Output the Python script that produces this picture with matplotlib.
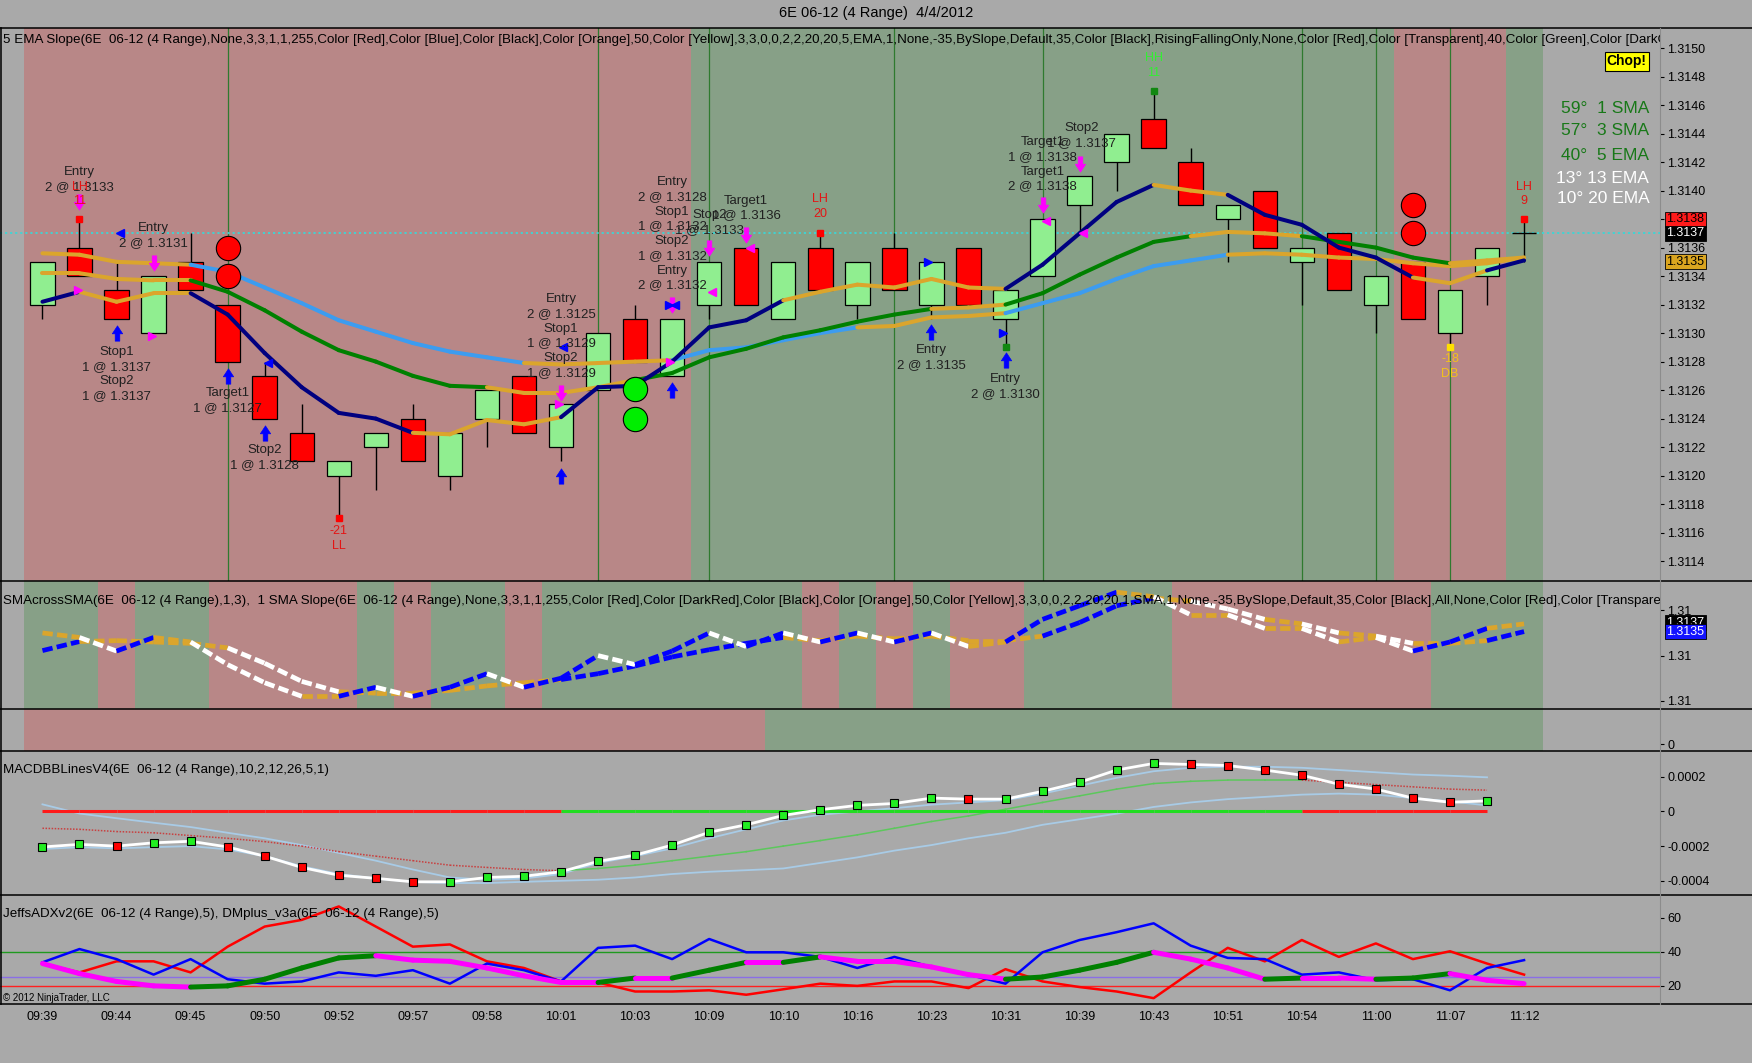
import numpy as np
import matplotlib
matplotlib.use("Agg")
import matplotlib.pyplot as plt
from matplotlib.path import Path
from matplotlib.patches import Rectangle
from matplotlib.lines import Line2D

plt.rcParams['font.family'] = ['Liberation Sans', 'DejaVu Sans']

# layout grid of the screenshot (all positions below are in this grid)
W, H = 1568.0, 951.0
GRAY = '#a9a9a9'
RED_BG = '#b88787'
GREEN_BG = '#87a087'

# ---------------- data ----------------
times = ["09:39", "09:44", "09:45", "09:50", "09:52", "09:57", "09:58", "10:01",
         "10:03", "10:09", "10:10", "10:16", "10:23", "10:31", "10:39", "10:43",
         "10:51", "10:54", "11:00", "11:07", "11:12"]

opens = [1.3132, 1.3136, 1.3133, 1.3130, 1.3135, 1.3132, 1.3127, 1.3123, 1.3120, 1.3122,
         1.3124, 1.3120, 1.3124, 1.3127, 1.3122, 1.3126, 1.3131, 1.3127, 1.3132, 1.3136,
         1.3131, 1.3136, 1.3132, 1.3136, 1.3132, 1.3136, 1.3131, 1.3134, 1.3139, 1.3142,
         1.3145, 1.3142, 1.3138, 1.3140, 1.3135, 1.3137, 1.3132, 1.3135, 1.3130, 1.3134,
         1.3137]
highs = [1.3135, 1.3138, 1.3135, 1.3134, 1.3137, 1.3132, 1.3128, 1.3125, 1.3121, 1.3123,
         1.3125, 1.3123, 1.3126, 1.3127, 1.3125, 1.3130, 1.3132, 1.3131, 1.3135, 1.3136,
         1.3135, 1.3137, 1.3135, 1.3137, 1.3135, 1.3136, 1.3133, 1.3138, 1.3141, 1.3144,
         1.3147, 1.3143, 1.3139, 1.3140, 1.3136, 1.3137, 1.3134, 1.3135, 1.3133, 1.3136,
         1.3138]
lows = [1.3131, 1.3134, 1.3131, 1.3130, 1.3133, 1.3128, 1.3124, 1.3121, 1.3117, 1.3119,
        1.3121, 1.3119, 1.3122, 1.3123, 1.3121, 1.3126, 1.3128, 1.3127, 1.3131, 1.3132,
        1.3131, 1.3133, 1.3131, 1.3133, 1.3131, 1.3132, 1.3129, 1.3134, 1.3137, 1.3140,
        1.3143, 1.3139, 1.3135, 1.3136, 1.3132, 1.3133, 1.3130, 1.3131, 1.3129, 1.3132,
        1.3135]
closes = [1.3135, 1.3134, 1.3131, 1.3134, 1.3133, 1.3128, 1.3124, 1.3121, 1.3121, 1.3123,
          1.3121, 1.3123, 1.3126, 1.3123, 1.3125, 1.3130, 1.3128, 1.3131, 1.3135, 1.3132,
          1.3135, 1.3133, 1.3135, 1.3133, 1.3135, 1.3132, 1.3133, 1.3138, 1.3141, 1.3144,
          1.3143, 1.3139, 1.3139, 1.3136, 1.3136, 1.3133, 1.3134, 1.3131, 1.3133, 1.3136,
          1.3137]

ema5 = [1.31322, 1.31329, 1.31322, 1.31328, 1.31328, 1.31313, 1.31286, 1.31262, 1.31244, 1.31240,
        1.31230, 1.31229, 1.31239, 1.31236, 1.31241, 1.31262, 1.31263, 1.31280, 1.31304, 1.31309,
        1.31323, 1.31329, 1.31334, 1.31332, 1.31338, 1.31332, 1.31331, 1.31348, 1.31370, 1.31392,
        1.31404, 1.31400, 1.31397, 1.31383, 1.31376, 1.31360, 1.31353, 1.31339, 1.31335, 1.31344,
        1.31351]
ema13 = [1.31342, 1.31342, 1.31338, 1.31337, 1.31337, 1.31329, 1.31316, 1.31301, 1.31288, 1.31280,
         1.31270, 1.31263, 1.31262, 1.31258, 1.31258, 1.31262, 1.31267, 1.31272, 1.31283, 1.31289,
         1.31297, 1.31302, 1.31308, 1.31313, 1.31317, 1.31318, 1.31320, 1.31328, 1.31341, 1.31353,
         1.31364, 1.31368, 1.31371, 1.31370, 1.31368, 1.31364, 1.31360, 1.31353, 1.31349, 1.31351,
         1.31353]
ema20 = [1.31356, 1.31355, 1.31350, 1.31349, 1.31348, 1.31343, 1.31332, 1.31321, 1.31309, 1.31301,
         1.31293, 1.31287, 1.31283, 1.31279, 1.31278, 1.31279, 1.31280, 1.31281, 1.31288, 1.31290,
         1.31295, 1.31300, 1.31304, 1.31305, 1.31311, 1.31312, 1.31314, 1.31321, 1.31328, 1.31338,
         1.31347, 1.31351, 1.31355, 1.31356, 1.31355, 1.31353, 1.31352, 1.31349, 1.31347, 1.31349,
         1.31353]
# slope state of each segment: n/g/b = trending colour, o = flat
ema5_state = "n" + "ooo" + "nnnnnn" + "oooo" + "nnnnnn" + "oooooo" + "nnnn" + "oo" + "nnnnn" + "oo" + "n"
ema13_state = "oooo" + "g" * 8 + "oooo" + "g" * 8 + "oo" + "g" * 5 + "ooo" + "g" * 4 + "oo"
ema20_state = "oooo" + "b" * 9 + "oooo" + "b" * 5 + "oooo" + "b" * 6 + "o" * 8

# background slope state per bar (r = falling, g = rising)
main_bg = "r" * 18 + "g" * 19 + "rrr" + "g"
cross_bg = "ggrgg" + "rrrr" + "grggr" + "g" * 7 + "rgrg" + "rr" + "gggg" + "r" * 7 + "ggg"
slope_bg = "r" * 20 + "g" * 21

sma1 = closes[:]          # 1-period SMA is the close itself
sma3 = [1.31311, 1.31331, 1.31333, 1.31330, 1.31327, 1.31317, 1.31283, 1.31243, 1.31220, 1.31217,
        1.31217, 1.31223, 1.31233, 1.31240, 1.31247, 1.31260, 1.31277, 1.31297, 1.31313, 1.31327,
        1.31340, 1.31333, 1.31343, 1.31337, 1.31343, 1.31333, 1.31333, 1.31343, 1.31373, 1.31410,
        1.31427, 1.31420, 1.31403, 1.31380, 1.31370, 1.31350, 1.31343, 1.31327, 1.31327, 1.31333,
        1.31353]

# MACD panel, values in units of 1e-4
macd = [-2.05, -1.90, -2.00, -1.81, -1.72, -2.05, -2.58, -3.23, -3.68, -3.86,
        -4.06, -4.06, -3.81, -3.74, -3.48, -2.88, -2.52, -1.94, -1.20, -0.77,
        -0.23, 0.10, 0.35, 0.46, 0.77, 0.71, 0.71, 1.16, 1.68, 2.39,
        2.77, 2.71, 2.65, 2.39, 2.09, 1.57, 1.29, 0.77, 0.53, 0.61]
macd_dot = "ggrgg" + "rrrrrr" + "g" * 14 + "r" + "g" * 5 + "r" * 8 + "g"
macd_avg = [-0.97, -1.03, -1.16, -1.23, -1.39, -1.55, -1.74, -2.00, -2.32, -2.58,
            -2.84, -3.10, -3.23, -3.35, -3.42, -3.29, -3.10, -2.84, -2.58, -2.32,
            -2.00, -1.68, -1.35, -0.97, -0.58, -0.26, 0.13, 0.52, 0.90, 1.29,
            1.61, 1.74, 1.81, 1.81, 1.81, 1.68, 1.55, 1.42, 1.29, 1.23]
bb_upper = [0.41, -0.12, -0.39, -0.65, -0.90, -1.23, -1.55, -1.94, -2.39, -2.84,
            -3.35, -3.81, -3.94, -3.87, -3.61, -2.97, -2.58, -2.13, -1.55, -1.03,
            -0.52, -0.19, 0.00, 0.19, 0.39, 0.52, 0.65, 1.03, 1.48, 1.94,
            2.32, 2.52, 2.58, 2.58, 2.52, 2.39, 2.26, 2.13, 2.06, 1.97]
bb_lower = [-2.17, -2.06, -2.13, -2.06, -2.00, -2.19, -2.58, -3.16, -3.61, -3.87,
            -4.06, -4.13, -4.13, -4.06, -4.00, -3.94, -3.81, -3.61, -3.48, -3.39,
            -3.29, -2.97, -2.65, -2.26, -1.94, -1.55, -1.23, -0.77, -0.45, -0.13,
            0.26, 0.52, 0.71, 0.84, 0.97, 1.03, 0.97, 0.77, 0.58, 0.35]
macd_state = "r" * 14 + "g" * 20 + "r" * 5

# ADX panel
di_minus = [33.1, 27.9, 34.4, 34.4, 27.9, 43.0, 54.8, 58.7, 66.6, 54.8,
            43.0, 44.3, 34.4, 30.5, 22.6, 22.0, 16.7, 16.7, 17.4, 14.8,
            18.0, 21.3, 20.0, 22.6, 22.6, 18.7, 29.8, 22.6, 19.3, 16.7,
            12.8, 27.9, 42.3, 34.4, 46.9, 37.0, 44.9, 35.7, 40.3, 33.1, 26.6]
di_plus = [33.8, 41.6, 35.7, 26.6, 35.7, 23.9, 21.3, 22.6, 27.9, 25.9,
           29.2, 21.3, 33.1, 29.2, 22.6, 42.3, 43.6, 35.7, 47.5, 39.7,
           39.7, 37.0, 30.5, 37.0, 31.1, 26.6, 21.3, 39.7, 46.9, 51.5,
           56.7, 43.6, 36.4, 35.7, 26.6, 27.9, 23.3, 23.9, 17.4, 30.5, 35.1]
adx = [33.1, 27.2, 22.6, 20.0, 19.3, 20.0, 23.9, 30.5, 36.4, 37.7,
       35.1, 34.4, 30.5, 25.9, 22.0, 22.0, 24.6, 24.6, 29.2, 33.8,
       33.8, 37.0, 34.4, 34.4, 31.1, 26.6, 23.9, 25.2, 29.2, 33.8,
       39.7, 35.7, 30.5, 23.9, 24.6, 24.6, 23.9, 24.6, 27.2, 23.3, 21.3]

cross_bars = [5, 15, 18, 23, 27, 34, 36, 38]

trade_notes = [
    (1, 1.31417, "Entry\n2 @ 1.3133"),
    (3, 1.31378, "Entry\n2 @ 1.3131"),
    (2, 1.31291, "Stop1\n1 @ 1.3137\nStop2\n1 @ 1.3137"),
    (5, 1.31262, "Target1\n1 @ 1.3127"),
    (6, 1.31222, "Stop2\n1 @ 1.3128"),
    (14, 1.31328, "Entry\n2 @ 1.3125\nStop1\n1 @ 1.3129\nStop2\n1 @ 1.3129"),
    (17, 1.31410, "Entry\n2 @ 1.3128\nStop1\n1 @ 1.3132\nStop2\n1 @ 1.3132\nEntry\n2 @ 1.3132"),
    (18, 1.31387, "Stop2\n1 @ 1.3133"),
    (19, 1.31397, "Target1\n1 @ 1.3136"),
    (24, 1.31292, "Entry\n2 @ 1.3135"),
    (26, 1.31272, "Entry\n2 @ 1.3130"),
    (27, 1.31438, "Target1\n1 @ 1.3138\nTarget1\n2 @ 1.3138"),
    (28.05, 1.31448, "Stop2\n1 @ 1.3137"),
]
swing_notes = [
    (1, 1.31407, "LH\n11", '#e41414'),
    (8, 1.31165, "-21\nLL", '#e41414'),
    (21, 1.31398, "LH\n20", '#e41414'),
    (30, 1.31497, "HH\n11", '#33ee33'),
    (38, 1.31286, "-18\nDB", '#f2c21c'),
    (40, 1.31407, "LH\n9", '#e41414'),
]
swing_dots = [(1, 1.3138, '#ff0000'), (8, 1.3117, '#ff0000'), (21, 1.3137, '#ff0000'),
              (40, 1.3138, '#ff0000'), (26, 1.3129, '#118811'), (30, 1.3147, '#118811'),
              (38, 1.3129, '#ffe000')]
down_arrows = [(1, 1.31392), (3, 1.31349), (14, 1.31258), (17, 1.31320), (18, 1.31360),
               (19, 1.31369), (27, 1.31390), (28, 1.31419)]
up_arrows = [(2, 1.31300), (5, 1.31270), (6, 1.31230), (14, 1.31200), (17, 1.31260),
             (24, 1.31301), (26, 1.31281)]
blue_left = [(2.08, 1.31370), (6.08, 1.31279), (14.06, 1.31290), (17.08, 1.31320)]
blue_right = [(16.92, 1.31320), (23.92, 1.31350), (25.94, 1.31300)]
mag_right = [(0.95, 1.31330), (2.95, 1.31298), (13.95, 1.31250), (16.94, 1.31280)]
mag_left = [(18.08, 1.31329), (19.1, 1.31360), (27.1, 1.31379), (28.1, 1.31370)]
red_circles = [(5, 1.31360), (5, 1.31340), (37, 1.31390), (37, 1.31370)]
green_circles = [(16, 1.31261), (16, 1.31240)]

# ---------------- helpers ----------------
XMIN, XMAX = -38 / 33.15, (1486 - 38) / 33.15


def fx(x):
    return x / W


def fy(y):
    return 1 - y / H


def add_panel(fig, top, bottom, ylim):
    ax = fig.add_axes([0, fy(bottom), 1486 / W, (bottom - top) / H])
    ax.set_facecolor(GRAY)
    ax.set_xlim(XMIN, XMAX)
    ax.set_ylim(*ylim)
    for s in ax.spines.values():
        s.set_visible(False)
    ax.set_xticks([])
    ax.yaxis.tick_right()
    ax.tick_params(axis='y', length=3, pad=2, labelsize=9, colors='black')
    return ax


def shade(ax, states):
    start = 0
    for i in range(1, len(states) + 1):
        if i == len(states) or states[i] != states[start]:
            c = RED_BG if states[start] == 'r' else GREEN_BG
            ax.axvspan(start - 0.5, i - 0.5, color=c, lw=0, zorder=0)
            start = i


def seg_line(ax, y, states, cmap, lw, ls='-', z=3):
    for i, s in enumerate(states):
        ax.plot([i, i + 1], y[i:i + 2], color=cmap[s], lw=lw, ls=ls,
                solid_capstyle='round', dash_capstyle='butt', zorder=z)


def slope_states(vals, thr):
    out = ""
    for a, b in zip(vals[:-1], vals[1:]):
        out += 'b' if b - a > thr else ('w' if a - b > thr else 'o')
    return out


def arrow_marker(up):
    v = [(-0.15, 0.5), (0.15, 0.5), (0.15, 0.02), (0.34, 0.02), (0, -0.5),
         (-0.34, 0.02), (-0.15, 0.02), (-0.15, 0.5), (0, 0)]
    if up:
        v = [(a, -b) for a, b in v]
    return Path(v, closed=True)


def price_box(ax, y, txt, bg, fg):
    ax.text(1.0035, y, txt, transform=ax.get_yaxis_transform(), fontsize=9,
            color=fg, va='center', ha='left', zorder=10, clip_on=False,
            bbox=dict(boxstyle='square,pad=0.12', fc=bg, ec='black', lw=0.6))


# ---------------- figure ----------------
fig = plt.figure(figsize=(17.52, 10.63), dpi=100, facecolor=GRAY)
fig.text(fx(784), fy(12), "6E 06-12 (4 Range)  4/4/2012", ha='center', va='center',
         fontsize=10.5)

x = np.arange(len(closes))

# ---- main price panel ----
ax1 = add_panel(fig, 25, 520, (1.3150 - 477 / 127500, 1.3150 + 18 / 127500))
shade(ax1, main_bg)
for b in cross_bars:
    ax1.axvline(b, color='#2f7a2f', lw=0.9, zorder=1)
ax1.axhline(1.3137, color='#3cd6d6', ls=(0, (1.2, 1.6)), lw=1.3, zorder=1.5)

for i in range(len(closes)):
    ax1.vlines(i, lows[i], highs[i], color='black', lw=1, zorder=2)
    o, c = opens[i], closes[i]
    if o == c:
        ax1.hlines(c, i - 0.33, i + 0.33, color='black', lw=1, zorder=2.5)
    else:
        ax1.add_patch(Rectangle((i - 0.33, min(o, c)), 0.66, abs(c - o),
                                fc='#90ee90' if c > o else '#ff0000',
                                ec='black', lw=0.9, zorder=2.5))

ma_cols = {'n': '#000080', 'o': '#dba52c', 'g': '#008000', 'b': '#3c9cf0'}
seg_line(ax1, ema20, ema20_state, ma_cols, 2.9)
seg_line(ax1, ema13, ema13_state, ma_cols, 2.9)
seg_line(ax1, ema5, ema5_state, ma_cols, 2.9)

for b, p in red_circles:
    ax1.plot(b, p, 'o', ms=17.5, mfc='#ff0000', mec='black', mew=0.8, zorder=6)
for b, p in green_circles:
    ax1.plot(b, p, 'o', ms=17.5, mfc='#00ee00', mec='black', mew=0.8, zorder=6)

for b, p, c in swing_dots:
    ax1.plot(b, p, 's', ms=5, mfc=c, mec=c, zorder=6)
dm, um = arrow_marker(False), arrow_marker(True)
for b, p in down_arrows:
    ax1.plot(b, p, marker=dm, ms=11, mfc='#ff00ff', mec='#ff00ff', mew=0.5, ls='', zorder=7)
for b, p in up_arrows:
    ax1.plot(b, p, marker=um, ms=11, mfc='#0000ff', mec='#0000ff', mew=0.5, ls='', zorder=7)
for pts, m, c in [(blue_left, '<', '#0000ff'), (blue_right, '>', '#0000ff'),
                  (mag_right, '>', '#ff00ff'), (mag_left, '<', '#ff00ff')]:
    for b, p in pts:
        ax1.plot(b, p, m, ms=5.5, mfc=c, mec=c, zorder=7)

for b, p, t in trade_notes:
    ax1.text(b, p, t, ha='center', va='top', fontsize=9.5, color='#202020',
             linespacing=1.3, zorder=8)
for b, p, t, c in swing_notes:
    ax1.text(b, p, t, ha='center', va='top', fontsize=9, color=c,
             linespacing=1.28, zorder=8)

ax1.set_yticks(np.arange(1.3114, 1.31501, 0.0002))
ax1.set_yticklabels(["%.4f" % v for v in np.arange(1.3114, 1.31501, 0.0002)])
price_box(ax1, 1.3138, "1.3138", '#ff1a1a', 'black')
price_box(ax1, 1.3137, "1.3137", 'black', 'white')
price_box(ax1, 1.3135, "1.3135", '#daa520', 'black')

ax1.text(0.002, 0.978,
         "5 EMA Slope(6E  06-12 (4 Range),None,3,3,1,1,255,Color [Red],Color [Blue],Color [Black],"
         "Color [Orange],50,Color [Yellow],3,3,0,0,2,2,20,20,5,EMA,1,None,-35,BySlope,Default,35,"
         "Color [Black],RisingFallingOnly,None,Color [Red],Color [Transparent],40,Color [Green],"
         "Color [DarkGreen],Color [Black]",
         transform=ax1.transAxes, fontsize=9.65, va='center', ha='left', clip_on=True, zorder=9)

slope_txt = [("59°  1 SMA", 0.8545, '#187818'), ("57°  3 SMA", 0.8141, '#187818'),
             ("40°  5 EMA", 0.7697, '#187818'), ("13° 13 EMA", 0.7273, 'white'),
             ("10° 20 EMA", 0.6909, 'white')]
for t, yy, c in slope_txt:
    ax1.text(0.9933, yy, t, transform=ax1.transAxes, ha='right', va='center',
             fontsize=12.5, color=c, zorder=9)
ax1.text(0.9798, 0.9394, "Chop!", transform=ax1.transAxes, ha='center', va='center',
         fontsize=10, fontweight='bold', color='black', zorder=9,
         bbox=dict(boxstyle='square,pad=0.15', fc='#ffff00', ec='black', lw=0.8))

# ---- SMA cross panel ----
ax2 = add_panel(fig, 520, 634, (1.3140 - 88 / 40500, 1.3140 + 26 / 40500))
shade(ax2, cross_bg)
sm_cols = {'b': '#0000ff', 'w': '#ffffff', 'o': '#dba52c'}
seg_line(ax2, sma3, slope_states(sma3, 0.00012), sm_cols, 3.4, ls=(0, (2.2, 0.9)))
seg_line(ax2, sma1, slope_states(sma1, 0.00012), sm_cols, 3.4, ls=(0, (2.2, 0.9)))
ax2.set_yticks([1.312, 1.313, 1.314])
ax2.set_yticklabels(["1.31", "1.31", "1.31"])
price_box(ax2, 1.31373, "1.3137", 'black', 'white')
price_box(ax2, 1.31353, "1.3135", '#1414ff', 'white')
ax2.text(0.002, 0.842,
         "SMAcrossSMA(6E  06-12 (4 Range),1,3),  1 SMA Slope(6E  06-12 (4 Range),None,3,3,1,1,255,"
         "Color [Red],Color [DarkRed],Color [Black],Color [Orange],50,Color [Yellow],3,3,0,0,2,2,"
         "20,20,1,SMA,1,None,-35,BySlope,Default,35,Color [Black],All,None,Color [Red],"
         "Color [Transparent],40",
         transform=ax2.transAxes, fontsize=9.65, va='center', ha='left', clip_on=True, zorder=9)

# ---- slope strip ----
ax3 = add_panel(fig, 634, 672, (-0.16, 0.84))
shade(ax3, slope_bg)
ax3.set_yticks([0])
ax3.set_yticklabels(["0"])

# ---- MACD panel ----
ax4 = add_panel(fig, 672, 801, (-4.84, 3.48))
xm = np.arange(len(macd))
ax4.plot(xm, bb_upper, color='#a8cbe6', lw=1.3, zorder=2)
ax4.plot(xm, bb_lower, color='#a8cbe6', lw=1.3, zorder=2)
for i, s in enumerate(macd_state):
    if s == 'r':
        ax4.plot([i, i + 1], macd_avg[i:i + 2], color='#c84040', lw=1.1, ls=(0, (1, 1)), zorder=2)
        ax4.plot([i, i + 1], [0, 0], color='#ff1a1a', lw=2.2, zorder=2, solid_capstyle='butt')
    else:
        ax4.plot([i, i + 1], macd_avg[i:i + 2], color='#5cc85c', lw=1.1, zorder=2)
        ax4.plot([i, i + 1], [0, 0], color='#22dd22', lw=2.2, zorder=2, solid_capstyle='butt')
ax4.plot(xm, macd, color='white', lw=2, zorder=3)
for i, v in enumerate(macd):
    c = '#22ee22' if macd_dot[i] == 'g' else '#ff0000'
    ax4.plot(i, v, 's', ms=5.5, mfc=c, mec='black', mew=0.8, zorder=4)
ax4.set_yticks([2, 0, -2, -4])
ax4.set_yticklabels(["0.0002", "0", "-0.0002", "-0.0004"])
ax4.text(0.002, 0.868, "MACDBBLinesV4(6E  06-12 (4 Range),10,2,12,26,5,1)",
         transform=ax4.transAxes, fontsize=9.65, va='center', ha='left', zorder=9)

# ---- ADX panel ----
ax5 = add_panel(fig, 801, 898, (20 - 16 / 1.525, 20 + 81 / 1.525))
ax5.axhline(40, color='#1f9a1f', lw=1, zorder=1)
ax5.axhline(25, color='#8a6ee6', lw=1, zorder=1)
ax5.axhline(20, color='#ff2020', lw=1, zorder=1)
ax5.plot(x, di_minus, color='#ff0000', lw=1.8, zorder=2)
ax5.plot(x, di_plus, color='#0000ff', lw=1.8, zorder=2)
for i in range(len(adx) - 1):
    c = '#008000' if adx[i + 1] > adx[i] else '#ff00ff'
    ax5.plot([i, i + 1], adx[i:i + 2], color=c, lw=3.6, solid_capstyle='round', zorder=3)
ax5.set_yticks([20, 40, 60])
ax5.set_yticklabels(["20", "40", "60"])
ax5.set_xticks(np.arange(0, 41, 2))
ax5.set_xticklabels(times, fontsize=9)
ax5.tick_params(axis='x', length=0, pad=5)
ax5.text(0.002, 0.825, "JeffsADXv2(6E  06-12 (4 Range),5), DMplus_v3a(6E  06-12 (4 Range),5)",
         transform=ax5.transAxes, fontsize=9.65, va='center', ha='left', zorder=9)
ax5.text(0.002, 0.01, "© 2012 NinjaTrader, LLC", transform=ax5.transAxes,
         fontsize=7, va='bottom', ha='left', zorder=9)

# panel separators
for yy in [25, 520, 634, 672, 801, 898]:
    fig.add_artist(Line2D([0, 1], [fy(yy), fy(yy)], color='black', lw=1.1))
fig.add_artist(Line2D([fx(1), fx(1)], [fy(898), fy(25)], color='black', lw=1.1))
fig.add_artist(Line2D([fx(1486), fx(1486)], [fy(898), fy(25)], color='#8c8c8c', lw=0.8))

fig.savefig("out.png", dpi=100, facecolor=GRAY)
